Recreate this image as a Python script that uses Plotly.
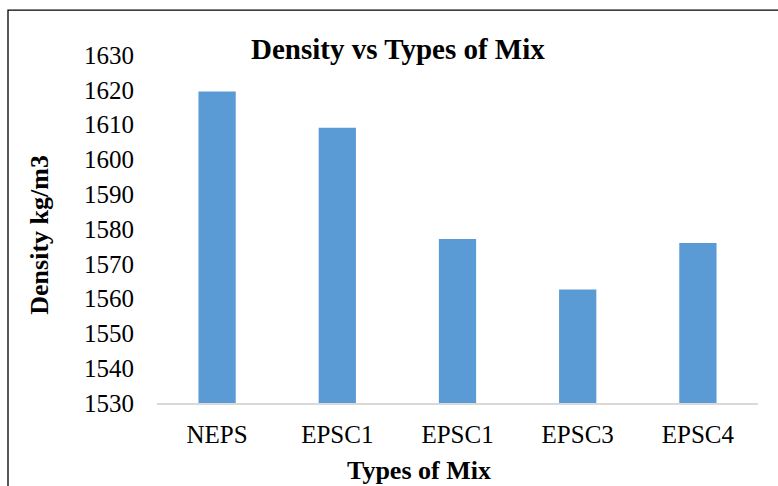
import plotly.graph_objects as go

# Mix labels (two mixes share the label "EPSC1") and measured densities
mix_labels = ["NEPS", "EPSC1", "EPSC1", "EPSC3", "EPSC4"]
density = [1619.5, 1609.1, 1577.1, 1562.6, 1576.0]
y_ticks = [1530, 1540, 1550, 1560, 1570, 1580, 1590, 1600, 1610, 1620, 1630]

positions = list(range(len(mix_labels)))
serif = "Liberation Serif, Times New Roman, serif"

W, H = 778, 486
L, R, T, B = 157, 20, 55, 82.5
pw, ph = W - L - R, H - T - B


def px_to_paper_x(px):
    return (px - L) / pw


def px_to_paper_y(py):
    return (H - B - py) / ph


fig = go.Figure(
    go.Bar(
        x=positions,
        y=density,
        width=0.31,
        marker=dict(color="#5B9BD5", line=dict(width=0)),
    )
)

fig.update_layout(
    width=W,
    height=H,
    margin=dict(l=L, r=R, t=T, b=B),
    paper_bgcolor="white",
    plot_bgcolor="white",
    showlegend=False,
    font=dict(family=serif, color="black"),
    xaxis=dict(
        range=[-0.5, len(mix_labels) - 0.5],
        tickvals=positions,
        ticktext=mix_labels,
        showgrid=False,
        zeroline=False,
        showline=True,
        linecolor="#d9d9d9",
        linewidth=1.5,
        ticks="",
        tickfont=dict(size=25, family=serif, color="black"),
        ticklabelstandoff=8,
    ),
    yaxis=dict(
        range=[1530, 1630],
        tickvals=y_ticks,
        showgrid=False,
        zeroline=False,
        showline=False,
        ticks="",
        tickfont=dict(size=25, family=serif, color="black"),
        ticklabelstandoff=22,
    ),
    shapes=[
        # outer chart frame
        dict(
            type="rect",
            xref="paper",
            yref="paper",
            x0=px_to_paper_x(8),
            x1=px_to_paper_x(790),
            y0=px_to_paper_y(520),
            y1=px_to_paper_y(10),
            line=dict(color="black", width=1.3),
            fillcolor="rgba(0,0,0,0)",
            layer="below",
        )
    ],
    annotations=[
        dict(
            text="<b>Density vs Types of Mix</b>",
            xref="paper", yref="paper",
            x=px_to_paper_x(397.5), y=px_to_paper_y(49),
            xanchor="center", yanchor="middle",
            showarrow=False,
            font=dict(size=29, family=serif, color="black"),
        ),
        dict(
            text="<b>Types of Mix</b>",
            xref="paper", yref="paper",
            x=px_to_paper_x(419), y=px_to_paper_y(471),
            xanchor="center", yanchor="middle",
            showarrow=False,
            font=dict(size=26, family=serif, color="black"),
        ),
        dict(
            text="<b>Density kg/m3</b>",
            xref="paper", yref="paper",
            x=px_to_paper_x(40), y=px_to_paper_y(235),
            xanchor="center", yanchor="middle",
            textangle=-90,
            showarrow=False,
            font=dict(size=26, family=serif, color="black"),
        ),
    ],
)

fig.write_html("out.html")
